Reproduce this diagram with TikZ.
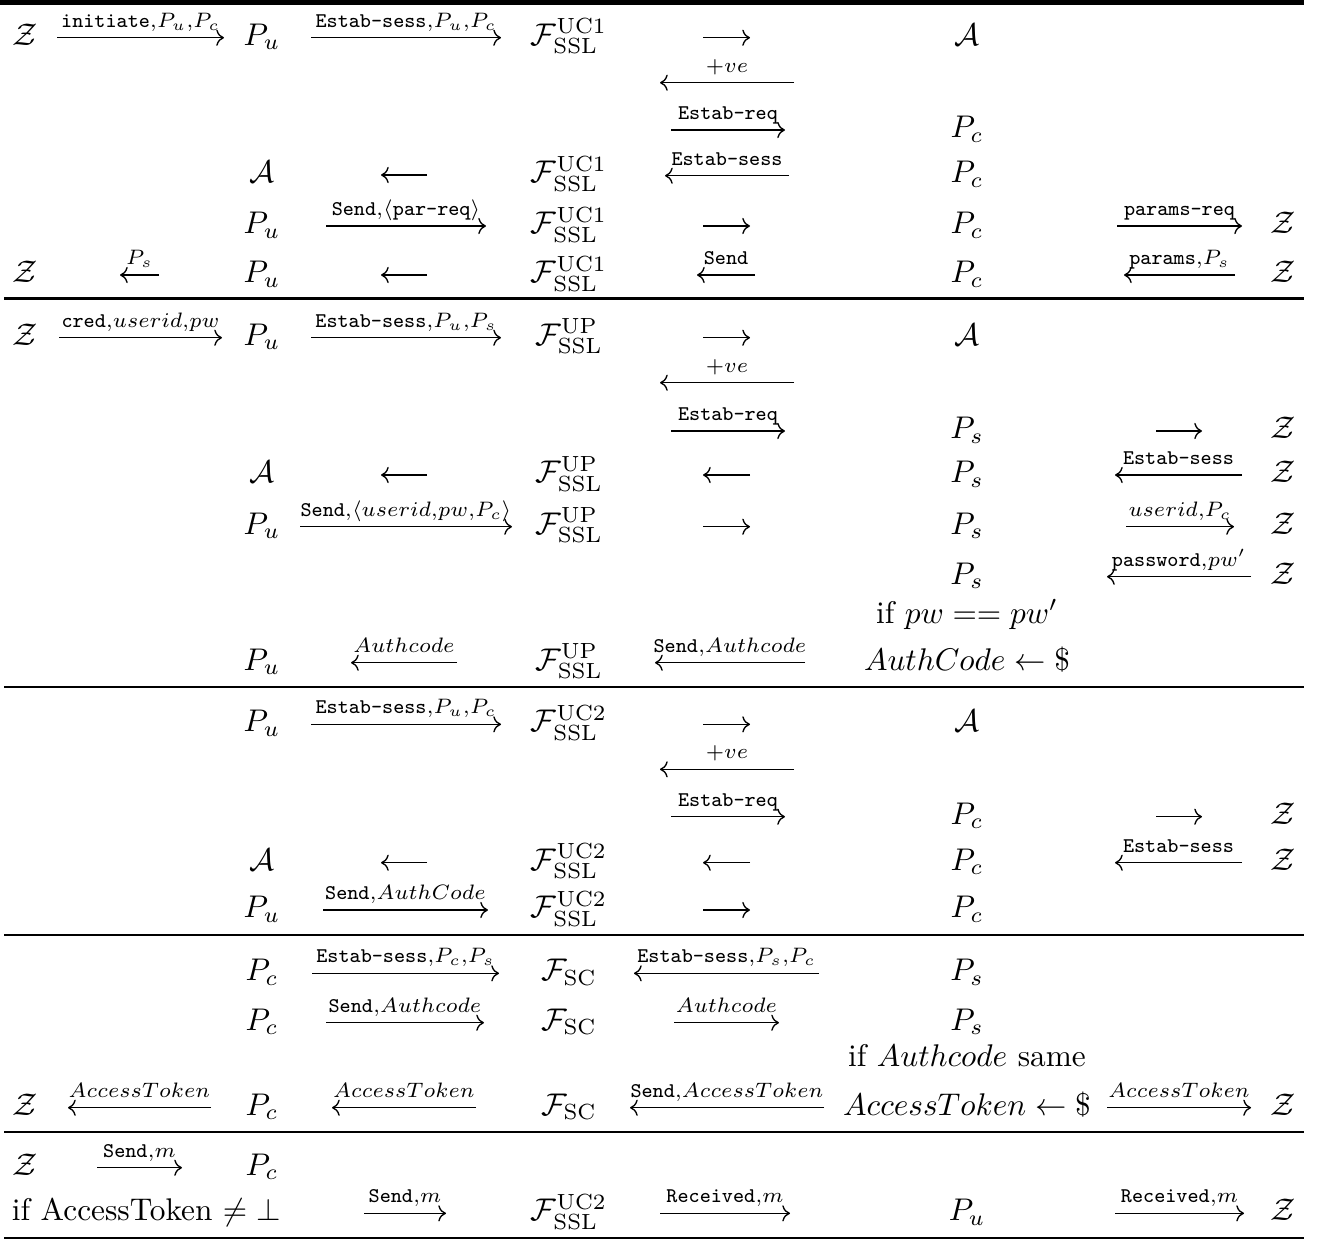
\documentclass[tikz,border=0pt]{standalone}
\usepackage{amsmath}
\usepackage{graphicx}
\usetikzlibrary{arrows.meta}
\tikzset{
  cell/.style={anchor=base, inner sep=0pt, outer sep=0pt},
  lbl/.style={anchor=base, inner sep=0pt, outer sep=0pt, yshift=3.5pt},
  arr/.style={line width=0.45pt, -{Computer Modern Rightarrow}},
  seprule/.style={line width=0.85pt},
}
\newcommand\bgt[1]{\scalebox{1.05}{#1}}
\newcommand\mkarr[5]{\coordinate (#1s) at (#2,#4); \coordinate (#1e) at (#3,#4); \draw[arr] (#1s) -- node[lbl] (#1l) {$\scriptstyle #5$} (#1e);}
\newcommand\plarr[4]{\coordinate (#1s) at (#2,#4); \coordinate (#1e) at (#3,#4); \draw[arr] (#1s) -- (#1e);}
\newcommand\FUCa{\bgt{$\mathcal{F}^{\mathrm{UC}1}_{\mathrm{SSL}}$}}
\newcommand\FUCb{\bgt{$\mathcal{F}^{\mathrm{UC}2}_{\mathrm{SSL}}$}}
\newcommand\FUPx{\bgt{$\mathcal{F}^{\mathrm{UP}}_{\mathrm{SSL}}$}}
\newcommand\FSCx{\bgt{$\mathcal{F}_{\mathrm{SC}}$}}
\newcommand\Zc{\bgt{$\mathcal{Z}$}}
\newcommand\Ac{\bgt{$\mathcal{A}$}}
\newcommand\Pu{\bgt{$P_u$}}
\newcommand\Pc{\bgt{$P_c$}}
\newcommand\Ps{\bgt{$P_s$}}
\begin{document}
\begin{tikzpicture}[x=0.335pt,y=-0.335pt]
\useasboundingbox (0,0) rectangle (1326,1240);
% rules
\fill (0,0) rectangle (1304,4.5);
\draw[seprule] (4,298.5) -- (1304,298.5);
\draw[seprule] (4,687) -- (1304,687);
\draw[seprule] (4,935) -- (1304,935);
\draw[seprule] (4,1132) -- (1304,1132);
\draw[line width=0.55pt] (4,1238) -- (1304,1238);

% ---------- section 1 ----------
\node[cell] (z11) at (25.5,45) {\Zc};
\mkarr{a11}{57}{224}{37.7}{\texttt{initiate},P_u,P_c}
\node[cell] (p11) at (262,45) {\Pu};
\mkarr{a12}{311}{501}{37.7}{\texttt{Estab-sess},P_u,P_c}
\node[cell] (f11) at (569,45) {\FUCa};
\plarr{a13}{703}{750}{37.7}
\node[cell] (q11) at (967,45) {\Ac};
\mkarr{a14}{794}{660}{82.7}{+ve}
\mkarr{a15}{671}{785}{130}{\texttt{Estab-req}}
\node[cell] (q12) at (967,137.5) {\Pc};

\node[cell] (p13) at (262,182.5) {\Ac};
\plarr{a16}{427}{381}{175}
\node[cell] (f13) at (569,182.5) {\FUCa};
\mkarr{a17}{789}{665}{175.7}{\texttt{Estab-sess}}
\node[cell] (q13) at (967,182.5) {\Pc};

\node[cell] (p14) at (262,233.5) {\Pu};
\mkarr{a18}{326}{486}{226}{\texttt{Send},\langle\texttt{par-req}\rangle}
\node[cell] (f14) at (569,233.5) {\FUCa};
\plarr{a19}{703}{750}{226}
\node[cell] (q14) at (967,233.5) {\Pc};
\mkarr{a1a}{1117}{1242}{226}{\texttt{params-req}}
\node[cell] (z14) at (1283,233.5) {\Zc};

\node[cell] (z15) at (25.5,282.5) {\Zc};
\mkarr{a1b}{159}{120}{275}{P_s}
\node[cell] (p15) at (262,282.5) {\Pu};
\plarr{a1c}{427}{381}{275}
\node[cell] (f15) at (569,282.5) {\FUCa};
\mkarr{a1d}{755}{697}{275}{\texttt{Send}}
\node[cell] (q15) at (967,282.5) {\Pc};
\mkarr{a1e}{1235}{1124}{275}{\texttt{params},P_s}
\node[cell] (z15r) at (1283,282.5) {\Zc};

% ---------- section 2 ----------
\node[cell] (z21) at (25.5,345) {\Zc};
\mkarr{a21}{59}{222}{337.7}{\texttt{cred},userid,pw}
\node[cell] (p21) at (262,345) {\Pu};
\mkarr{a22}{311}{501}{337.7}{\texttt{Estab-sess},P_u,P_s}
\node[cell] (f21) at (569,345) {\FUPx};
\plarr{a23}{703}{750}{337.7}
\node[cell] (q21) at (967,345) {\Ac};
\mkarr{a24}{794}{660}{382.7}{+ve}
\mkarr{a25}{671}{785}{431}{\texttt{Estab-req}}
\node[cell] (q22) at (967,438.5) {\Ps};
\plarr{a26}{1156}{1202}{431}
\node[cell] (z22) at (1283,438.5) {\Zc};

\node[cell] (p23) at (262,482.5) {\Ac};
\plarr{a27}{427}{381}{475}
\node[cell] (f23) at (569,482.5) {\FUPx};
\plarr{a28}{750}{703}{475}
\node[cell] (q23) at (967,482.5) {\Ps};
\mkarr{a29}{1242}{1115}{475}{\texttt{Estab-sess}}
\node[cell] (z23) at (1283,482.5) {\Zc};

\node[cell] (p24) at (262,534) {\Pu};
\mkarr{a2a}{300}{512}{526.7}{\texttt{Send},\langle userid,pw,P_c\rangle}
\node[cell] (f24) at (569,534) {\FUPx};
\plarr{a2b}{703}{750}{526.7}
\node[cell] (q24) at (967,534) {\Ps};
\mkarr{a2c}{1126}{1234}{526.7}{userid,P_c}
\node[cell] (z24) at (1283,534) {\Zc};

\node[cell] (q25) at (967,584) {\Ps};
\mkarr{a2d}{1251}{1107}{576.7}{\texttt{password},pw'}
\node[cell] (z25) at (1283,584) {\Zc};

\node[cell] (q26) at (967,623) {\bgt{if $pw == pw'$}};

\node[cell] (p27) at (262,670) {\Pu};
\mkarr{a2e}{457}{351}{662.7}{Authcode}
\node[cell] (f27) at (569,670) {\FUPx};
\mkarr{a2f}{805}{655}{662.7}{\texttt{Send},Authcode}
\node[cell] (q27) at (967,670) {\bgt{$AuthCode \leftarrow \$$}};

% ---------- section 3 ----------
\node[cell] (p31) at (262,731.8) {\Pu};
\mkarr{a31}{311}{501}{724.3}{\texttt{Estab-sess},P_u,P_c}
\node[cell] (f31) at (569,731.8) {\FUCb};
\plarr{a32}{703}{750}{724.3}
\node[cell] (q31) at (967,731.8) {\Ac};
\mkarr{a33}{794}{660}{769.3}{+ve}
\mkarr{a34}{671}{785}{816.7}{\texttt{Estab-req}}
\node[cell] (q32) at (967,824.2) {\Pc};
\plarr{a35}{1156}{1202}{816.7}
\node[cell] (z32) at (1283,824.2) {\Zc};

\node[cell] (p33) at (262,870.2) {\Ac};
\plarr{a36}{427}{381}{862.7}
\node[cell] (f33) at (569,870.2) {\FUCb};
\plarr{a37}{750}{703}{862.7}
\node[cell] (q33) at (967,870.2) {\Pc};
\mkarr{a38}{1242}{1115}{862.7}{\texttt{Estab-sess}}
\node[cell] (z33) at (1283,870.2) {\Zc};

\node[cell] (p34) at (262,917.5) {\Pu};
\mkarr{a39}{323}{488}{910}{\texttt{Send},AuthCode}
\node[cell] (f34) at (569,917.5) {\FUCb};
\plarr{a3a}{703}{750}{910}
\node[cell] (q34) at (967,917.5) {\Pc};

% ---------- section 4 ----------
\node[cell] (p41) at (262,980.8) {\Pc};
\mkarr{a41}{312}{499}{973.3}{\texttt{Estab-sess},P_c,P_s}
\node[cell] (f41) at (569,980.8) {\FSCx};
\mkarr{a42}{819}{634}{973.3}{\texttt{Estab-sess},P_s,P_c}
\node[cell] (q41) at (967,980.8) {\Ps};

\node[cell] (p42) at (262,1030.2) {\Pc};
\mkarr{a43}{326}{484}{1022.7}{\texttt{Send},Authcode}
\node[cell] (f42) at (569,1030.2) {\FSCx};
\mkarr{a44}{674}{779}{1022.7}{Authcode}
\node[cell] (q42) at (967,1030.2) {\Ps};

\node[cell] (q43) at (967,1066.7) {\bgt{if $Authcode$ same}};

\node[cell] (z44) at (25.5,1115.2) {\Zc};
\mkarr{a45}{211}{68}{1107.7}{AccessToken}
\node[cell] (p44) at (262,1115.2) {\Pc};
\mkarr{a46}{476}{332}{1107.7}{AccessToken}
\node[cell] (f44) at (569,1115.2) {\FSCx};
\mkarr{a47}{824}{630}{1107.7}{\texttt{Send},AccessToken}
\node[cell] (q44) at (967,1115.2) {\bgt{$AccessToken \leftarrow \$$}};
\mkarr{a48}{1107}{1251}{1107.7}{AccessToken}
\node[cell] (z44r) at (1283,1115.2) {\Zc};

% ---------- section 5 ----------
\node[cell] (z51) at (25.5,1175.2) {\Zc};
\mkarr{a51}{97}{182}{1167.7}{\texttt{Send},m}
\node[cell] (p51) at (262,1175.2) {\Pc};

\node[cell, anchor=base west] (c52) at (12,1220.8) {\bgt{if AccessToken $\neq \bot$}};
\mkarr{a52}{364}{446}{1213.3}{\texttt{Send},m}
\node[cell] (f52) at (569,1220.8) {\FUCb};
\mkarr{a53}{660}{790}{1213.3}{\texttt{Received},m}
\node[cell] (q52) at (967,1220.8) {\Pu};
\mkarr{a54}{1115}{1244}{1213.3}{\texttt{Received},m}
\node[cell] (z52) at (1283,1220.8) {\Zc};
\end{tikzpicture}
\end{document}
